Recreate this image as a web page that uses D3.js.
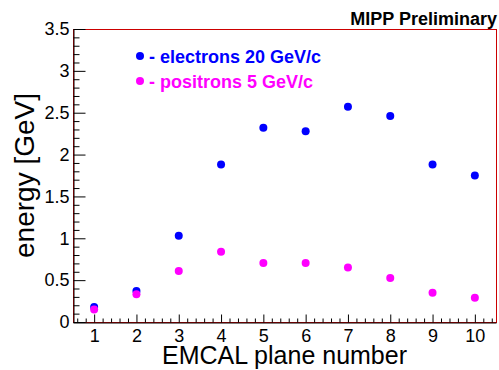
<!DOCTYPE html>
<html>
<head>
<meta charset="utf-8">
<script src="https://cdn.jsdelivr.net/npm/d3@7"></script>
<style>
  body { margin: 0; background: #fff; }
  svg { display: block; font-family: "Liberation Sans", Arial, Helvetica, sans-serif; }
</style>
</head>
<body>
<div id="chart"></div>
<script>
// EMCAL plane energies
var planes = [1, 2, 3, 4, 5, 6, 7, 8, 9, 10];
var electrons = [0.18, 0.37, 1.03, 1.88, 2.32, 2.28, 2.57, 2.46, 1.88, 1.75];
var positrons = [0.15, 0.33, 0.61, 0.84, 0.705, 0.705, 0.65, 0.525, 0.35, 0.29];
var yTicks = [0, 0.5, 1, 1.5, 2, 2.5, 3, 3.5];
var seriesNames = ["- electrons 20 GeV/c", "- positrons 5 GeV/c"];
var seriesColors = ["#0000ff", "#ff00ff"];

var W = 499, H = 370;
var padL = 73, padR = 496, padT = 29, padB = 322;

var svg = d3.select("#chart").append("svg")
  .attr("width", W)
  .attr("height", H);

var x = d3.scaleLinear().domain([0.5, 10.5]).range([padL, padR]);
var y = d3.scaleLinear().domain([0, 3.5]).range([padB, padT]);

// frame
svg.append("rect")
  .attr("x", padL + 0.5).attr("y", padT + 0.5)
  .attr("width", padR - padL).attr("height", padB - padT)
  .attr("fill", "none")
  .attr("stroke", "#cc0000")
  .attr("stroke-width", 1);

// minor ticks
var xMinor = d3.range(0.6, 10.45, 0.2).map(function(d) { return Math.round(d * 10) / 10; })
  .filter(function(d) { return Math.abs(d - Math.round(d)) > 0.01; });
var yMinor = d3.range(0.1, 3.45, 0.1).map(function(d) { return Math.round(d * 10) / 10; })
  .filter(function(d) { return Math.abs(d * 2 - Math.round(d * 2)) > 0.01; });

svg.append("g")
  .attr("transform", "translate(0," + (padB + 0.5) + ")")
  .call(d3.axisBottom(x).tickValues(xMinor).tickSize(-4).tickSizeOuter(0).tickFormat(""))
  .call(function(g) { g.select(".domain").remove(); });

svg.append("g")
  .attr("transform", "translate(" + (padL + 0.5) + ",0)")
  .call(d3.axisLeft(y).tickValues(yMinor).tickSize(-6).tickSizeOuter(0).tickFormat(""))
  .call(function(g) { g.select(".domain").remove(); });

// major axes
svg.append("g")
  .attr("transform", "translate(0," + (padB + 0.5) + ")")
  .call(d3.axisBottom(x).tickValues(planes).tickSize(-8).tickSizeOuter(0).tickPadding(7));

svg.append("g")
  .attr("transform", "translate(" + (padL + 0.5) + ",0)")
  .call(d3.axisLeft(y).tickValues(yTicks).tickSize(-12).tickSizeOuter(0).tickPadding(4)
    .tickFormat(d3.format("~g")));

svg.selectAll(".tick text")
  .attr("font-size", 18)
  .attr("font-family", "Liberation Sans, Arial, sans-serif")
  .attr("fill", "#000");
svg.selectAll(".domain, .tick line").attr("stroke", "#000");

// axis titles
svg.append("text")
  .attr("x", (padL + padR) / 2)
  .attr("y", 364)
  .attr("text-anchor", "middle")
  .attr("font-size", 25)
  .text("EMCAL plane number");

svg.append("text")
  .attr("transform", "translate(34," + ((padT + padB) / 2) + ") rotate(-90)")
  .attr("text-anchor", "middle")
  .attr("font-size", 28)
  .text("energy [GeV]");

svg.append("text")
  .attr("x", 497)
  .attr("y", 25)
  .attr("text-anchor", "end")
  .attr("font-size", 18)
  .attr("font-weight", "bold")
  .text("MIPP Preliminary");

// points
[electrons, positrons].forEach(function(vals, k) {
  svg.append("g").selectAll("circle")
    .data(vals)
    .enter().append("circle")
    .attr("cx", function(d, i) { return x(planes[i]); })
    .attr("cy", function(d) { return y(d); })
    .attr("r", 4)
    .attr("fill", seriesColors[k]);
});

// legend
var legendY = [56, 81];
seriesNames.forEach(function(name, k) {
  svg.append("circle")
    .attr("cx", 140).attr("cy", legendY[k])
    .attr("r", 4)
    .attr("fill", seriesColors[k]);
  svg.append("text")
    .attr("x", 149).attr("y", legendY[k] + 7)
    .attr("font-size", 18)
    .attr("font-weight", "bold")
    .attr("fill", seriesColors[k])
    .text(name);
});
</script>
</body>
</html>
